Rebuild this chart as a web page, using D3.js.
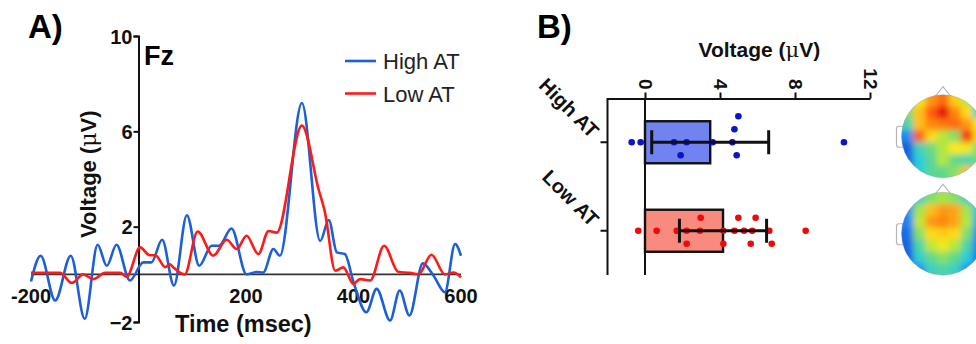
<!DOCTYPE html>
<html lang="en">
<head>
    <meta charset="UTF-8">
    <title>ERP Fz and P300 amplitude</title>
    <style>
        body { margin: 0; background: #fff; }
        svg text { font-family: 'Liberation Sans', Arial, sans-serif; }
    </style>
    <script src="https://d3js.org/d3.v7.min.js"></script>
</head>
<body>
    <svg width="976" height="344"></svg>
    <script>
        // ---- panel A: waveforms at Fz (time in ms, voltage in uV) ----
        const highTimes = [-200, -182, -155, -126, -100, -76, -59, -41, -16, 9, 24, 44, 66, 90, 113, 136, 150, 173, 201, 220, 232, 251, 263, 304, 338, 354, 369, 384, 400, 424, 443, 468, 486, 504, 529, 549, 570, 589, 600];
        const highVals  = [-0.3, 0.78, -1.1, 0.78, -1.87, 1.24, 0.36, 1.24, -0.26, 0.5, 0.5, 1.45, -0.47, 2.48, 0.36, 1.2, 1.2, 1.92, 0, 0.1, 0.08, 1.06, 0.78, 7.19, 1.4, 2.28, 0.92, 0.85, -0.33, -1.59, -0.61, -1.94, -0.68, -1.73, 0.46, -0.06, -0.75, 1.27, 0.78];

        const lowTimes = [-200, -146, -124, -103, -84, -62, -34, -22, 3, 21, 31, 50, 58, 65, 86, 110, 139, 164, 183, 201, 223, 242, 257, 304, 335, 347, 366, 381, 400, 412, 431, 457, 483, 505, 521, 545, 570, 586, 600];
        const lowVals  = [0.06, 0.06, -0.36, 0, -0.2, 0.06, 0.06, -0.1, 1.13, 0.8, 0.8, 0.3, 0.42, 0.29, 0, 1.8, 0.78, 1.45, 1.06, 1.62, 0.85, 1.82, 1.75, 6.24, 3.57, 2.59, 0.15, 0.29, -0.4, -0.2, -0.26, 1.2, 0.11, 0.06, 0, 0.82, 0, 0.08, -0.13];

        const timeTicks = [-200, 200, 400, 600];
        const voltTicks = [-2, 2, 6, 10];

        // ---- panel B: single-subject amplitudes (uV) ----
        const groups = ["High AT", "Low AT"];
        const highSubjects = [-0.71, -0.23, 1.55, 1.9, 2.22, 3.61, 4.66, 4.77, 4.89, 4.98, 10.61];
        const lowSubjects  = [-0.36, 0.62, 1.69, 2.22, 2.22, 2.93, 2.97, 4.18, 4.18, 4.77, 4.98, 5.28, 5.64, 5.72, 5.9, 6.63, 6.76, 8.57];
        const ampTicks = [0, 4, 8, 12];

        // ---- scalp maps, 7x7 grid of relative amplitude (0 = min, 1 = max), rows front to back ----
        const topoHigh = [
            [0.55, 0.70, 0.84, 0.90, 0.76, 0.64, 0.42],
            [0.55, 0.78, 0.92, 1.00, 0.86, 0.74, 0.38],
            [0.44, 0.78, 0.86, 0.88, 0.90, 0.84, 0.72],
            [0.22, 0.92, 0.74, 0.62, 0.55, 0.96, 0.74],
            [0.10, 0.42, 0.52, 0.62, 0.72, 0.70, 0.55],
            [0.12, 0.36, 0.48, 0.62, 0.50, 0.44, 0.52],
            [0.18, 0.36, 0.48, 0.50, 0.56, 0.78, 0.50]
        ];
        const topoLow = [
            [0.18, 0.42, 0.55, 0.60, 0.55, 0.42, 0.28],
            [0.24, 0.60, 0.78, 0.84, 0.82, 0.60, 0.32],
            [0.20, 0.64, 0.84, 0.86, 0.82, 0.62, 0.28],
            [0.14, 0.56, 0.74, 0.76, 0.74, 0.55, 0.22],
            [0.12, 0.46, 0.64, 0.70, 0.62, 0.45, 0.20],
            [0.10, 0.38, 0.50, 0.56, 0.50, 0.36, 0.16],
            [0.10, 0.24, 0.40, 0.45, 0.40, 0.25, 0.10]
        ];

        const svg = d3.select("svg");
        const blue = "#1c5fd8", red = "#ff1a1a";

        // ================= A =================
        const x = d3.scaleLinear().domain([-200, 600]).range([31, 461]);
        const y = d3.scaleLinear().domain([-2, 10]).range([322, 36]);

        svg.append("text").attr("x", 28).attr("y", 38)
            .style("font-size", "33px").style("font-weight", "700").text("A)");

        // zero line
        svg.append("line")
            .attr("x1", x(-200)).attr("x2", x(600))
            .attr("y1", y(0)).attr("y2", y(0))
            .attr("stroke", "#333").attr("stroke-width", 1.6);

        const yAxis = svg.append("g")
            .attr("transform", `translate(${x(0)},0)`)
            .call(d3.axisLeft(y).tickValues(voltTicks).tickSize(5).tickFormat(d3.format("d")));
        yAxis.select(".domain").attr("stroke", "#111").attr("stroke-width", 2);
        yAxis.selectAll(".tick line").attr("stroke", "#111").attr("stroke-width", 2);
        yAxis.selectAll("text")
            .attr("x", -6).attr("dy", "0.36em")
            .style("font-size", "20px").style("font-weight", "700").style("fill", "#111")
            .style("font-family", "'Liberation Sans', Arial, sans-serif");

        svg.append("g").selectAll("text")
            .data(timeTicks).enter().append("text")
            .attr("x", d => x(d)).attr("y", 303)
            .attr("text-anchor", "middle")
            .style("font-size", "20px").style("font-weight", "700").style("fill", "#111")
            .text(d => d);

        svg.append("text")
            .attr("x", x(195)).attr("y", 332)
            .attr("text-anchor", "middle")
            .style("font-size", "23.5px").style("font-weight", "700").style("fill", "#111")
            .text("Time (msec)");

        const yLab = svg.append("text")
            .attr("transform", `translate(96,${y(4.2)}) rotate(-90)`)
            .attr("text-anchor", "middle")
            .style("font-size", "22px").style("font-weight", "700").style("fill", "#111");
        yLab.append("tspan").text("Voltage (");
        yLab.append("tspan").style("font-weight", "400").style("font-family", "'DejaVu Serif', serif").text("\u03bc");
        yLab.append("tspan").text("V)");

        svg.append("text").attr("x", 144).attr("y", 65)
            .style("font-size", "27px").style("font-weight", "700").text("Fz");

        const line = d3.line().x(d => x(d[0])).y(d => y(d[1])).curve(d3.curveMonotoneX);
        const waves = [
            { name: "High AT", color: blue, pts: d3.zip(highTimes, highVals) },
            { name: "Low AT", color: red, pts: d3.zip(lowTimes, lowVals) }
        ];
        svg.append("g").selectAll("path")
            .data(waves).enter().append("path")
            .attr("d", d => line(d.pts))
            .attr("fill", "none")
            .attr("stroke", d => d.color)
            .attr("stroke-width", 2.6)
            .attr("stroke-linejoin", "round");

        const legend = svg.append("g").selectAll("g")
            .data(waves).enter().append("g")
            .attr("transform", (d, i) => `translate(345,${61 + i * 32.5})`);
        legend.append("line").attr("x1", 0).attr("x2", 31)
            .attr("stroke", d => d.color).attr("stroke-width", 2.6);
        legend.append("text").attr("x", 38).attr("y", 8)
            .style("font-size", "22px").style("fill", "#222").text(d => d.name);

        // ================= B =================
        const xb = d3.scaleLinear().domain([-2, 12]).range([607.5, 870]);
        const yb = d3.scalePoint().domain(groups).range([98, 275]).padding(0.5);
        const step = yb.step();

        svg.append("text").attr("x", 537).attr("y", 38)
            .style("font-size", "33px").style("font-weight", "700").text("B)");

        const tB = svg.append("text")
            .attr("x", xb(6.1)).attr("y", 57)
            .attr("text-anchor", "middle")
            .style("font-size", "21px").style("font-weight", "700").style("fill", "#111");
        tB.append("tspan").text("Voltage (");
        tB.append("tspan").style("font-weight", "400").style("font-family", "'DejaVu Serif', serif").text("\u03bc");
        tB.append("tspan").text("V)");

        const topAxis = svg.append("g")
            .attr("transform", "translate(0,98.5)")
            .call(d3.axisTop(xb).tickValues(ampTicks).tickSize(6).tickSizeOuter(0));
        topAxis.select(".domain").attr("stroke", "#111").attr("stroke-width", 2);
        topAxis.selectAll(".tick line").attr("stroke", "#111").attr("stroke-width", 2);
        topAxis.selectAll("text")
            .attr("transform", "rotate(90)")
            .attr("x", -9).attr("y", 0).attr("dy", "0.36em")
            .attr("text-anchor", "end")
            .style("font-size", "19px").style("font-weight", "700").style("fill", "#111")
            .style("font-family", "'Liberation Sans', Arial, sans-serif");

        // left category axis
        svg.append("line")
            .attr("x1", xb(-2)).attr("x2", xb(-2))
            .attr("y1", 98).attr("y2", 275)
            .attr("stroke", "#111").attr("stroke-width", 2);
        svg.append("g").selectAll("line")
            .data(groups).enter().append("line")
            .attr("x1", xb(-2) - 7).attr("x2", xb(-2))
            .attr("y1", d => yb(d)).attr("y2", d => yb(d))
            .attr("stroke", "#111").attr("stroke-width", 2);
        svg.append("g").selectAll("text")
            .data(groups).enter().append("text")
            .attr("transform", d => `translate(${xb(-2) - 17},${yb(d) - 3}) rotate(45)`)
            .attr("text-anchor", "end")
            .style("font-size", "20px").style("font-weight", "700").style("fill", "#111")
            .text(d => d);

        const stats = [
            { key: "High AT", vals: highSubjects, fill: "#7083f0", dot: "#0a14c8" },
            { key: "Low AT", vals: lowSubjects, fill: "#f88a7e", dot: "#ee0a0a" }
        ];
        stats.forEach(s => { s.mean = d3.mean(s.vals); s.sd = d3.deviation(s.vals); });

        const barH = step * 0.475;
        svg.append("g").selectAll("rect")
            .data(stats).enter().append("rect")
            .attr("x", xb(0))
            .attr("y", d => yb(d.key) - barH / 2)
            .attr("width", d => xb(d.mean) - xb(0))
            .attr("height", barH)
            .attr("fill", d => d.fill)
            .attr("stroke", "#111").attr("stroke-width", 2.4);

        // zero line through bars
        svg.append("line")
            .attr("x1", xb(0)).attr("x2", xb(0))
            .attr("y1", 98).attr("y2", 275)
            .attr("stroke", "#111").attr("stroke-width", 2);

        // simple swarm: lanes of 13px, greedy, alternating sides
        const lane = 13, rDot = 3.3;
        stats.forEach(s => {
            const placed = [];
            let flip = 1;
            s.pts = d3.sort(s.vals).map(v => {
                const px = xb(v);
                const cands = [0, flip * lane, -flip * lane, 2 * flip * lane, -2 * flip * lane];
                let off = cands.find(o => placed.every(p => p.off !== o || Math.abs(p.px - px) >= 2 * rDot + 0.6));
                if (off === undefined) off = 0;
                if (off !== 0) flip = -Math.sign(off);
                placed.push({ px, off });
                return { v, off };
            });
        });

        const dots = svg.append("g");
        stats.forEach(s => {
            dots.selectAll(null)
                .data(s.pts).enter().append("circle")
                .attr("cx", d => xb(d.v))
                .attr("cy", d => yb(s.key) + d.off)
                .attr("r", rDot)
                .attr("fill", s.dot);
        });

        // mean +/- SD
        const eb = svg.append("g").attr("stroke", "#111").attr("stroke-width", 3);
        stats.forEach(s => {
            const cy = yb(s.key);
            eb.append("line").attr("x1", xb(s.mean - s.sd)).attr("x2", xb(s.mean + s.sd)).attr("y1", cy).attr("y2", cy);
            [s.mean - s.sd, s.mean + s.sd].forEach(v => {
                eb.append("line").attr("x1", xb(v)).attr("x2", xb(v)).attr("y1", cy - 12).attr("y2", cy + 12);
            });
        });

        // ---- scalp maps ----
        const jet = d3.scaleLinear()
            .domain([0, 0.2, 0.35, 0.5, 0.62, 0.72, 0.82, 0.92, 1])
            .range(["#0a3cd2", "#1e82f0", "#28cde0", "#5fd88a", "#b2e83a", "#ffe814", "#ffa414", "#ff5a0a", "#e6000a"]);

        const defs = svg.append("defs");
        defs.append("filter").attr("id", "smooth")
            .attr("x", "-20%").attr("y", "-20%").attr("width", "140%").attr("height", "140%")
            .append("feGaussianBlur").attr("stdDeviation", 3.2);

        const heads = [
            { id: "h1", cy: yb("High AT") - 6, grid: topoHigh },
            { id: "h2", cy: yb("Low AT") + 3, grid: topoLow }
        ];
        const R = 41.5, hx = 943;

        heads.forEach(h => {
            defs.append("clipPath").attr("id", "clip-" + h.id)
                .append("circle").attr("cx", hx).attr("cy", h.cy).attr("r", R);

            const g = svg.append("g");
            // ears + nose
            g.append("path")
                .attr("d", `M${hx - 8},${h.cy - R + 2} L${hx},${h.cy - R - 8} L${hx + 8},${h.cy - R + 2}`)
                .attr("fill", "#fff").attr("stroke", "#b5b5b5").attr("stroke-width", 1.2);
            g.append("rect")
                .attr("x", hx - R - 5).attr("y", h.cy - 10).attr("width", 8).attr("height", 21).attr("rx", 2.5)
                .attr("fill", "#fff").attr("stroke", "#b5b5b5").attr("stroke-width", 1.2);

            const n = h.grid.length, cell = 2 * R / n, ext = 10;
            const cells = [];
            h.grid.forEach((row, i) => row.forEach((v, j) => cells.push({ i, j, v })));

            g.append("g").attr("clip-path", `url(#clip-${h.id})`)
                .append("g").attr("filter", "url(#smooth)")
                .selectAll("rect").data(cells).enter().append("rect")
                .attr("x", d => hx - R + d.j * cell - (d.j === 0 ? ext : 0))
                .attr("y", d => h.cy - R + d.i * cell - (d.i === 0 ? ext : 0))
                .attr("width", d => cell + 0.5 + (d.j === 0 || d.j === n - 1 ? ext : 0))
                .attr("height", d => cell + 0.5 + (d.i === 0 || d.i === n - 1 ? ext : 0))
                .attr("fill", d => jet(d.v));

            g.append("circle").attr("cx", hx).attr("cy", h.cy).attr("r", R)
                .attr("fill", "none").attr("stroke", "#889").attr("stroke-opacity", 0.35).attr("stroke-width", 1);
        });
    </script>
</body>
</html>
